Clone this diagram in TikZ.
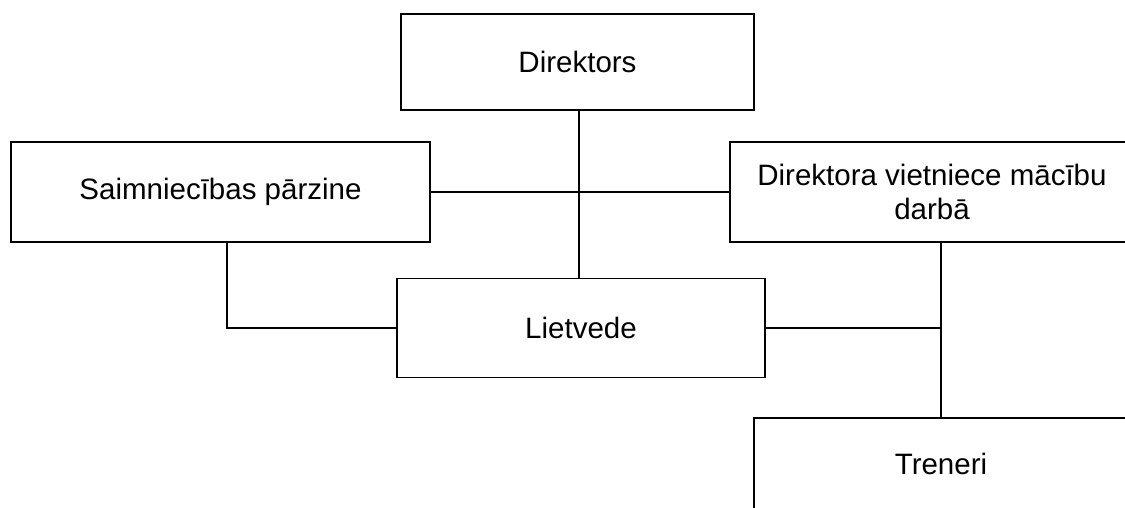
\documentclass[tikz,border=0pt]{standalone}
\usepackage{fontspec}
\setmainfont{Liberation Sans}
\usepackage{tikz}
\usetikzlibrary{positioning,calc}
\tikzset{
    orgbox/.style={
        draw=black,
        fill=white,
        rectangle,
        line width=1.8pt,
        inner sep=0pt,
        align=center,
        font=\fontsize{29.5}{34}\selectfont
    },
    link/.style={
        draw=black,
        line width=1.8pt
    }
}
\begin{document}
\begin{tikzpicture}[x=1pt,y=-1pt]
    \useasboundingbox (0,0) rectangle (1125,507);
    \clip (0,0) rectangle (1125,507);

    % Boxes
    \node[orgbox, minimum width=353, minimum height=96] (dir) at (577.5,62) {Direktors};
    \node[orgbox, minimum width=419, minimum height=100] (saim) at (220.5,192) {Saimniecības pārzine};
    \node[orgbox, minimum width=404, minimum height=100] (vietn) at (932,192)
        {Direktora vietniece mācību\\darbā};
    \node[orgbox, minimum width=368, minimum height=99] (liet) at (581,328) {Lietvede};
    \node[orgbox, minimum width=374, minimum height=92] (tren) at (941,464) {Treneri};

    % Lines
    \draw[link] ([xshift=1.5]dir.south) -- ([xshift=1.5]dir.south |- liet.north);
    \draw[link] (saim.east) -- (vietn.west);
    \draw[link] ([xshift=6.5]saim.south) |- (liet.west);
    \draw[link] (liet.east) -| (tren.north);
    \draw[link] (tren.north) -- (tren.north |- vietn.south);
\end{tikzpicture}
\end{document}
